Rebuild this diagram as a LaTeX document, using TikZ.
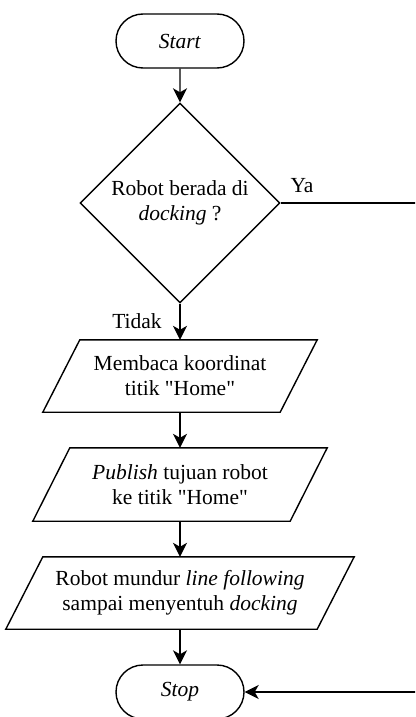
\documentclass[tikz,border=0pt]{standalone}
\usepackage{fontspec}
\setmainfont{Liberation Serif}
\usetikzlibrary{shapes.geometric,shapes.misc,arrows.meta,calc}

\begin{document}
\begin{tikzpicture}[x=1pt,y=-1pt,
  every node/.style={font=\fontsize{21.5}{25}\selectfont, text=black},
  line/.style={line width=1.4pt, draw=black},
  flow/.style={line, -{Stealth[length=14pt,width=14pt,inset=4pt]}},
  term/.style={rounded rectangle, line, minimum width=128pt, minimum height=54pt, inner sep=0pt},
  decision/.style={diamond, line, minimum width=200pt, minimum height=200pt, inner sep=0pt, align=center},
  iobox/.style={minimum height=72pt, inner sep=0pt, align=center},
  lbl/.style={inner sep=0pt},
]
\useasboundingbox (0,0) rectangle (415,717);
\clip (0,0) rectangle (415,717);

% slanted input/output box drawn around a rectangular text node
\newcommand\slantbox[1]{%
  \draw[line] ($(#1.north west)+(18.5,0)$) -- ($(#1.north east)+(18.5,0)$)
    -- ($(#1.south east)+(-18.5,0)$) -- ($(#1.south west)+(-18.5,0)$) -- cycle;}

\node[term] (start) at (180,41) {\textit{Start}};
\node[decision] (dec) at (180,203) {Robot berada di\\\textit{docking} ?};
\node[iobox, minimum width=237pt] (p1) at (180,376) {Membaca koordinat\\titik \textquotedbl Home\textquotedbl};
\node[iobox, minimum width=257pt, minimum height=73pt] (p2) at (180,484.5) {\textit{Publish} tujuan robot\\ke titik \textquotedbl Home\textquotedbl};
\node[iobox, minimum width=311pt] (p3) at (180,593) {Robot mundur \textit{line following}\\sampai menyentuh \textit{docking}};
\node[term] (stop) at (180,692) {\textit{Stop}};

\slantbox{p1}
\slantbox{p2}
\slantbox{p3}

\node[lbl] (ya) at (302,186) {Ya};
\node[lbl] (tidak) at (137,321) {Tidak};

\coordinate (rt) at (425,203);
\coordinate (rb) at (425,692);

\draw[flow] (start) -- (dec);
\draw[flow] (dec) -- (p1);
\draw[flow] (p1) -- (p2);
\draw[flow] (p2) -- (p3);
\draw[flow] (p3) -- (stop);
\draw[flow] (dec.east) -- (rt) -- (rb) -- (stop.east);
\end{tikzpicture}
\end{document}
